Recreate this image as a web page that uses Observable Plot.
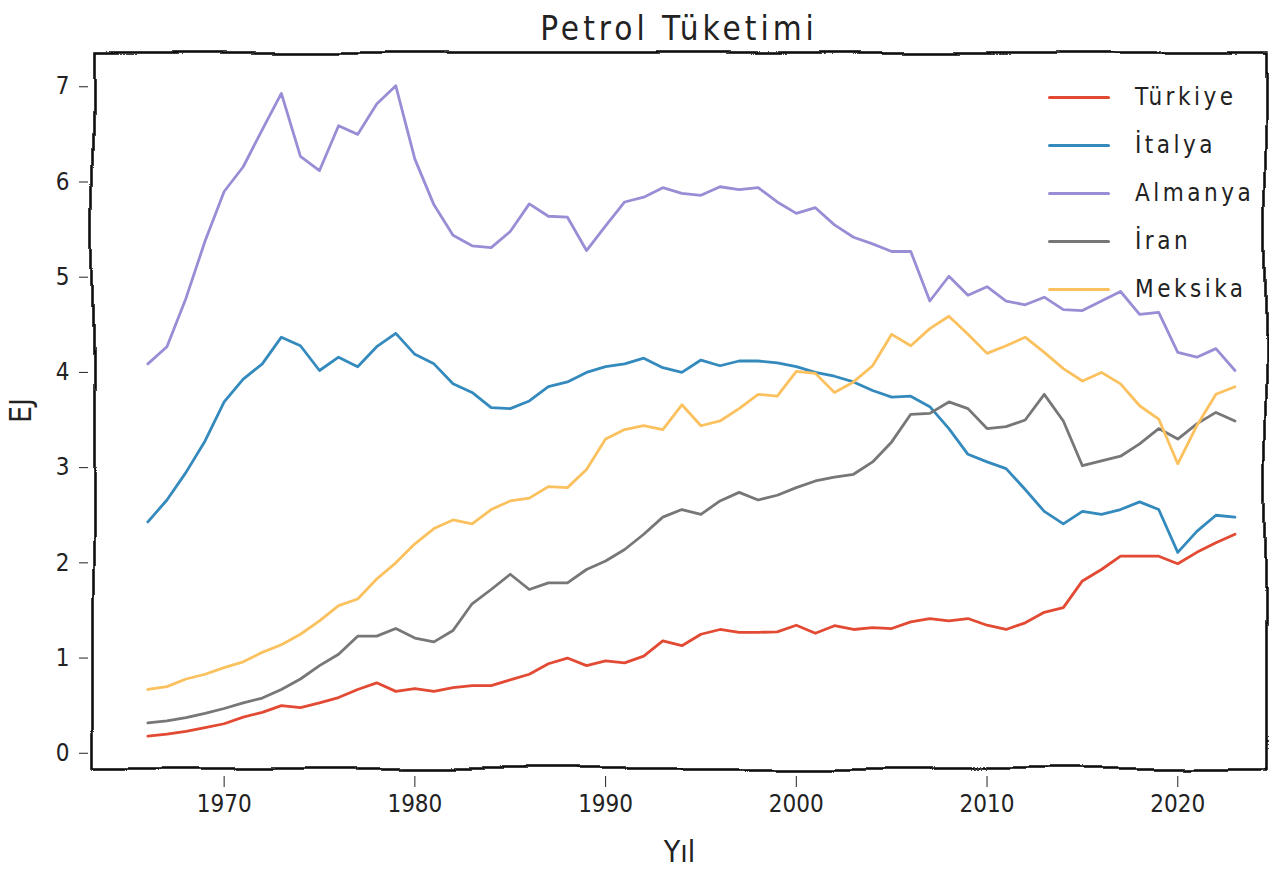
<!DOCTYPE html>
<html><head><meta charset="utf-8">
<script src="https://cdn.jsdelivr.net/npm/d3@7"></script>
<script src="https://cdn.jsdelivr.net/npm/@observablehq/plot@0.6"></script>
<style>
body{margin:0;background:#fff;}
#wrap{position:relative;width:1269px;height:872px;overflow:hidden;font-family:"DejaVu Sans Condensed","Liberation Sans Narrow","DejaVu Sans",sans-serif;color:#222;}
#title{position:absolute;left:93px;width:1172px;top:9px;text-align:center;font-size:33px;letter-spacing:4px;}
#chart{position:absolute;left:0;top:46px;}
#legend{position:absolute;left:1048px;top:73px;}
.item{display:flex;align-items:center;height:48px;}
.sw{width:62px;height:3px;border-radius:2px;margin-right:25px;}
.lb{font-size:24px;letter-spacing:3.5px;}
</style>
</head><body>
<div id="wrap">
  <div id="title">Petrol Tüketimi</div>
  <div id="chart"></div>
  <div id="legend"></div>
</div>
<script>
const years = [1966,1967,1968,1969,1970,1971,1972,1973,1974,1975,1976,1977,1978,1979,1980,1981,1982,1983,1984,1985,1986,1987,1988,1989,1990,1991,1992,1993,1994,1995,1996,1997,1998,1999,2000,2001,2002,2003,2004,2005,2006,2007,2008,2009,2010,2011,2012,2013,2014,2015,2016,2017,2018,2019,2020,2021,2022,2023];

const turkiye = [0.18,0.20,0.23,0.27,0.31,0.38,0.43,0.50,0.48,0.53,0.585,0.67,0.74,0.65,0.68,0.65,0.69,0.71,0.71,0.77,0.83,0.94,1.00,0.92,0.97,0.95,1.02,1.18,1.13,1.25,1.30,1.27,1.27,1.275,1.345,1.26,1.34,1.30,1.32,1.31,1.38,1.415,1.39,1.415,1.345,1.30,1.37,1.48,1.53,1.81,1.93,2.07,2.07,2.07,1.99,2.11,2.21,2.30];
const italya = [2.43,2.66,2.95,3.28,3.69,3.93,4.09,4.37,4.28,4.02,4.16,4.06,4.27,4.41,4.19,4.09,3.88,3.79,3.63,3.62,3.70,3.85,3.90,4.00,4.06,4.09,4.15,4.05,4.00,4.13,4.07,4.12,4.12,4.10,4.06,4.00,3.96,3.90,3.81,3.74,3.75,3.64,3.41,3.14,3.06,2.99,2.77,2.54,2.41,2.54,2.51,2.56,2.64,2.56,2.11,2.33,2.50,2.48];
const almanya = [4.09,4.27,4.78,5.38,5.90,6.16,6.55,6.93,6.27,6.12,6.59,6.50,6.82,7.01,6.24,5.76,5.44,5.33,5.31,5.48,5.77,5.64,5.63,5.28,5.54,5.79,5.84,5.94,5.88,5.86,5.95,5.92,5.94,5.79,5.67,5.73,5.55,5.42,5.35,5.27,5.27,4.75,5.01,4.81,4.90,4.75,4.71,4.79,4.66,4.65,4.75,4.85,4.61,4.63,4.21,4.16,4.25,4.02];
const iran = [0.32,0.34,0.375,0.42,0.47,0.53,0.58,0.67,0.78,0.92,1.04,1.23,1.23,1.31,1.21,1.17,1.29,1.57,1.72,1.88,1.72,1.79,1.79,1.93,2.02,2.14,2.30,2.48,2.56,2.51,2.65,2.74,2.66,2.71,2.79,2.86,2.90,2.93,3.06,3.27,3.56,3.57,3.69,3.62,3.41,3.43,3.50,3.77,3.49,3.02,3.07,3.12,3.25,3.41,3.30,3.46,3.58,3.49];
const meksika = [0.67,0.70,0.78,0.83,0.90,0.96,1.06,1.14,1.25,1.39,1.55,1.62,1.83,2.00,2.20,2.36,2.45,2.41,2.56,2.65,2.68,2.80,2.79,2.98,3.30,3.40,3.44,3.40,3.66,3.44,3.49,3.62,3.77,3.75,4.01,3.99,3.79,3.90,4.07,4.40,4.28,4.46,4.59,4.40,4.20,4.28,4.37,4.21,4.04,3.91,4.00,3.88,3.65,3.51,3.04,3.44,3.77,3.85];

const names = ["Türkiye","İtalya","Almanya","İran","Meksika"];
const colors = ["#E24A33","#348ABD","#988ED5","#777777","#FBC15E"];
const xTicks = [1970,1980,1990,2000,2010,2020];
const yTicks = [0,1,2,3,4,5,6,7];

const seriesValues = [turkiye, italya, almanya, iran, meksika];
const rows = names.flatMap((n, k) => years.map((yr, i) => ({year: yr, value: seriesValues[k][i], country: n})));

const font = '"DejaVu Sans Condensed","Liberation Sans Narrow","DejaVu Sans",sans-serif';

const chart = Plot.plot({
  width: 1269, height: 820,
  marginTop: 6, marginBottom: 98, marginLeft: 93, marginRight: 4,
  x: {domain: [1963.15, 2024.6]},
  y: {domain: [-0.16, 7.36]},
  color: {domain: names, range: colors},
  style: {fontFamily: font, fontSize: "24px", color: "#222", background: "white", overflow: "visible"},
  marks: [
    Plot.line(rows, {x: "year", y: "value", stroke: "country", z: "country", strokeWidth: 2.8, strokeLinejoin: "round"}),
    Plot.frame({stroke: "#111", strokeWidth: 2.6}),
    Plot.axisX({ticks: xTicks, tickFormat: d => String(d), tickSize: 11, tickPadding: 7, dy: 8, label: null, fontSize: 24}),
    Plot.axisY({ticks: yTicks, tickFormat: d => String(d), tickSize: 9, tickPadding: 10, dx: -5, label: null, fontSize: 24}),
    Plot.text(["Yıl"], {frameAnchor: "bottom", lineAnchor: "middle", dy: 84, fontSize: 30, fill: "#222"}),
    Plot.text(["EJ"], {frameAnchor: "left", textAnchor: "middle", lineAnchor: "middle", dx: -72, rotate: -90, fontSize: 30, fill: "#222"})
  ]
});

// xkcd-like wavy frame
const svgSel = d3.select(chart);
const defs = svgSel.insert("defs", ":first-child");
const f = defs.append("filter").attr("id", "wig").attr("filterUnits", "userSpaceOnUse")
  .attr("x", 0).attr("y", 0).attr("width", 1269).attr("height", 820);
f.append("feTurbulence").attr("type", "fractalNoise").attr("baseFrequency", "0.008").attr("numOctaves", 1).attr("seed", 3).attr("result", "n");
f.append("feDisplacementMap").attr("in", "SourceGraphic").attr("in2", "n").attr("scale", 14).attr("xChannelSelector", "R").attr("yChannelSelector", "G");
svgSel.selectAll('[aria-label="frame"]').attr("filter", "url(#wig)");

document.getElementById("chart").appendChild(chart);

const leg = document.getElementById("legend");
names.forEach((n, i) => {
  const it = document.createElement("div"); it.className = "item";
  const sw = document.createElement("div"); sw.className = "sw"; sw.style.background = colors[i];
  const lb = document.createElement("div"); lb.className = "lb"; lb.textContent = n;
  it.appendChild(sw); it.appendChild(lb); leg.appendChild(it);
});
</script>
</body></html>
